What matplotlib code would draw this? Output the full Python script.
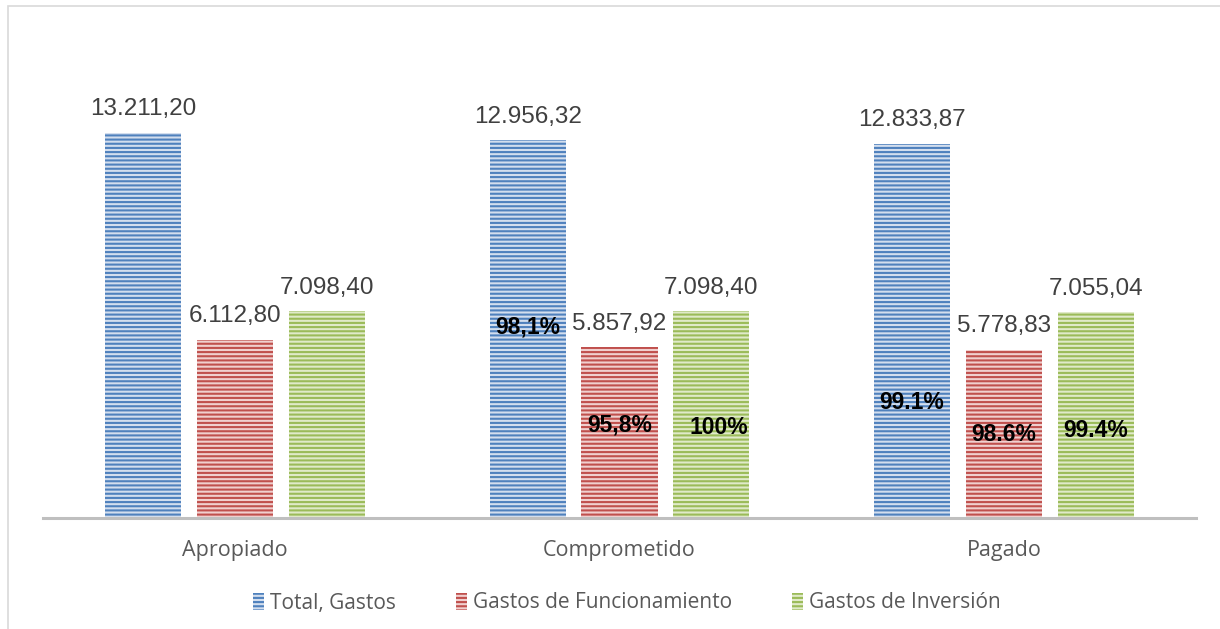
import matplotlib
matplotlib.use("Agg")
import matplotlib.pyplot as plt
from matplotlib.patches import Rectangle, Patch
import numpy as np

categorias = ["Apropiado", "Comprometido", "Pagado"]
series = ["Total, Gastos", "Gastos de Funcionamiento", "Gastos de Inversión"]
total_gastos = [13211.20, 12956.32, 12833.87]
funcionamiento = [6112.80, 5857.92, 5778.83]
inversion = [7098.40, 7098.40, 7055.04]
etiquetas = [["13.211,20", "12.956,32", "12.833,87"],
             ["6.112,80", "5.857,92", "5.778,83"],
             ["7.098,40", "7.098,40", "7.055,04"]]
# porcentajes de ejecucion (None = sin etiqueta)
porcentajes = [[None, "98,1%", "99.1%"],
               [None, "95,8%", "98.6%"],
               [None, "100%", "99.4%"]]
# altura (en unidades del eje) donde va cada porcentaje
pos_pct = [[None, 6550, 3980],
           [None, 3190, 2880],
           [None, 3120, 2990]]
desplaz_pct = [[0, 0, 0], [0, 0, 0], [0, 0.02, 0]]

oscuro = ["#4F81BD", "#C0504D", "#9BBB59"]
claro = ["#D3DEEE", "#F0D0CF", "#E0EAC9"]

plt.rcParams["hatch.linewidth"] = 1.5
fig = plt.figure(figsize=(12.2, 6.29), dpi=100)
ax = fig.add_axes([43 / 1220, 1 - 518 / 629, 1153 / 1220, 458 / 629])

x = np.arange(len(categorias))
ancho = 0.198
paso = 0.239
valores = [total_gastos, funcionamiento, inversion]
for i, vals in enumerate(valores):
    xs = x + (i - 1) * paso
    ax.bar(xs, vals, ancho, facecolor=claro[i], edgecolor=oscuro[i],
           hatch="----", linewidth=0)
    for j, v in enumerate(vals):
        ax.text(xs[j], v + 430, etiquetas[i][j], ha="center", va="bottom",
                fontsize=17.5, color="#404040", family="Liberation Sans")
        if porcentajes[i][j]:
            ax.text(xs[j] + desplaz_pct[i][j], pos_pct[i][j], porcentajes[i][j],
                    ha="center", va="center", fontsize=16.5, fontweight="bold",
                    color="black", family="Liberation Sans")

ax.set_xlim(-0.5, 2.5)
ax.set_ylim(0, 458 / 0.02914)
for s in ["top", "right", "left"]:
    ax.spines[s].set_visible(False)
ax.spines["bottom"].set_color("#BFBFBF")
ax.spines["bottom"].set_linewidth(2.2)
ax.set_yticks([])
ax.set_xticks(x)
ax.set_xticklabels(categorias, fontsize=15.5, color="#595959", family="Open Sans")
ax.tick_params(axis="x", length=0, pad=16)

handles = [Patch(facecolor=claro[i], edgecolor=oscuro[i], hatch="----", linewidth=0, label=series[i])
           for i in range(3)]
fig.legend(handles=handles, loc="center", bbox_to_anchor=(627 / 1220, 1 - 603 / 629),
           ncol=3, frameon=False, prop={"family": "Open Sans", "size": 15},
           labelcolor="#595959", handlelength=0.5, handleheight=0.9,
           handletextpad=0.3, columnspacing=2.9)

fig.patches.append(Rectangle((8 / 1220, -0.1), 1.2, 1 - 6 / 629 + 0.1, transform=fig.transFigure,
                             fill=False, edgecolor="#D9D9D9", linewidth=1.2))

fig.savefig("out.png", dpi=100)
